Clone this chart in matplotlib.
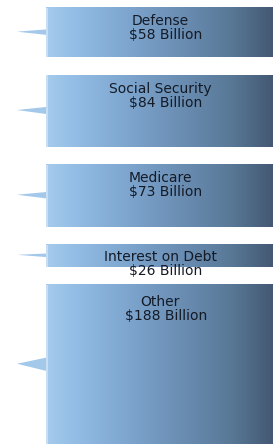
import numpy as np
import matplotlib
matplotlib.use("Agg")
import matplotlib.pyplot as plt
from matplotlib.colors import LinearSegmentedColormap
from matplotlib.patches import Polygon

categories = ["Defense", "Social Security", "Medicare", "Interest on Debt", "Other"]
values = [58, 84, 73, 26, 188]
value_labels = ["$58 Billion", "$84 Billion", "$73 Billion", "$26 Billion", "$188 Billion"]

W, H = 273, 444
fig = plt.figure(figsize=(W / 100, H / 100), dpi=100)
ax = fig.add_axes([0, 0, 1, 1])
ax.set_xlim(0, W)
ax.set_ylim(H, 0)
ax.axis("off")

cmap = LinearSegmentedColormap.from_list(
    "grad",
    [(0.0, "#a6cbec"), (0.1, "#96c0e7"), (0.35, "#7ea6cf"),
     (0.6, "#6a8db2"), (0.82, "#587896"), (1.0, "#445873")])
grad = np.linspace(0, 1, 256).reshape(1, -1)

scale = 0.85   # px per billion
gap = 18
x0, x1 = 46, W
tip_x = 17
top = 8
for cat, val, lab in zip(categories, values, value_labels):
    h = val * scale
    bottom = top + h
    ax.imshow(grad, cmap=cmap, aspect="auto", extent=(x0, x1, bottom, top),
              interpolation="bilinear", zorder=1)
    # lighter left edge strip
    ax.fill_between([x0, x0 + 2], top, bottom, color="#c8def2", lw=0, zorder=2)
    c = (top + bottom) / 2
    hw = 0.035 * h + 0.5
    ax.add_patch(Polygon([(tip_x, c - 1), (x0, c - hw - 1), (x0, c + hw)],
                         closed=True, facecolor="#a3c8ea", edgecolor="none", zorder=2))
    base = top + 15 + 0.04 * h
    ax.text((x0 + x1) / 2 + 0.5, base, cat, ha="center", va="baseline",
            fontsize=10, color="#141a26", family="DejaVu Sans", zorder=3)
    ax.text((x0 + x1) / 2 + 6.5, base + 14, lab, ha="center", va="baseline",
            fontsize=10, color="#141a26", family="DejaVu Sans", zorder=3)
    top = bottom + gap

fig.savefig("out.png", dpi=100)
